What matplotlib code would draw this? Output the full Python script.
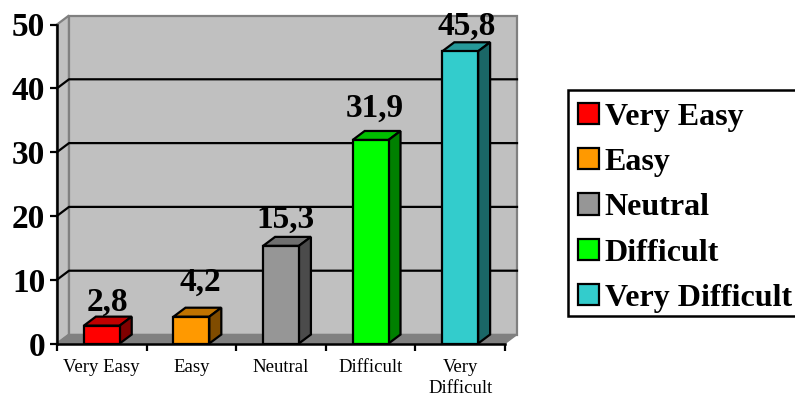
import matplotlib
matplotlib.use('Agg')
import matplotlib.pyplot as plt
from matplotlib.patches import Polygon, Patch, Rectangle

plt.rcParams['font.family'] = ['Liberation Serif', 'DejaVu Serif']

categories = ['Very Easy', 'Easy', 'Neutral', 'Difficult', 'Very\nDifficult']
legend_names = ['Very Easy', 'Easy', 'Neutral', 'Difficult', 'Very Difficult']
values = [2.8, 4.2, 15.3, 31.9, 45.8]
value_labels = ['2,8', '4,2', '15,3', '31,9', '45,8']
y_ticks = [0, 10, 20, 30, 40, 50]

front_colors = ['#ff0000', '#ff9900', '#969696', '#00ff00', '#33cccc']
top_colors = ['#c00000', '#c07300', '#707070', '#00c000', '#269999']
side_colors = ['#800000', '#804c00', '#4b4b4b', '#008000', '#1a6666']

# label baseline shift from the bar's front centre, in pixels (right, up from top of bar)
label_dx = [6, 9, 4, 4, 6]
label_dy = [14.6, 25.7, 17.9, 23, 16.3]

W, H = 795, 396
fig = plt.figure(figsize=(W / 100, H / 100), dpi=100)
ax = fig.add_axes([57 / W, 1 - 343.5 / H, 448 / W, 319 / H])
ax.set_xlim(0, 5)
ax.set_ylim(0, 50)
ax.patch.set_visible(False)

# depth of the fake 3D box in data units
dx = 12 / 89.6
dy = 9 / 6.38

# side wall, back wall and floor
ax.add_patch(Polygon([(0, 0), (dx, dy), (dx, 50 + dy), (0, 50)], closed=True, fc='#c0c0c0',
                     ec='#808080', lw=1.6, clip_on=False, zorder=1))
ax.add_patch(Polygon([(dx, dy), (5 + dx, dy), (5 + dx, 50 + dy), (dx, 50 + dy)], closed=True,
                     fc='#c0c0c0', ec='#808080', lw=1.6, clip_on=False, zorder=1))
ax.add_patch(Polygon([(0, 0), (dx, dy), (5 + dx, dy), (5, 0)], closed=True, fc='#808080',
                     ec='#808080', lw=1, clip_on=False, zorder=1.5))

# gridlines run along the side wall and across the back
for t in y_ticks[1:-1]:
    ax.plot([0, dx, 5 + dx], [t, t + dy, t + dy], color='black', lw=1.6, clip_on=False, zorder=2)

bar_x = [i + 0.5 for i in range(len(values))]
ax.bar(bar_x, values, width=0.4, color=front_colors, edgecolor='black', linewidth=1.6, zorder=5)

for x, v, top, side, lab, ldx, ldy in zip(bar_x, values, top_colors, side_colors, value_labels,
                                          label_dx, label_dy):
    l, r = x - 0.2, x + 0.2
    ax.add_patch(Polygon([(l, v), (l + dx, v + dy), (r + dx, v + dy), (r, v)], closed=True,
                         fc=top, ec='black', lw=1.6, clip_on=False, zorder=4))
    ax.add_patch(Polygon([(r, 0), (r + dx, dy), (r + dx, v + dy), (r, v)], closed=True,
                         fc=side, ec='black', lw=1.6, clip_on=False, zorder=4))
    ax.annotate(lab, (x, v), xytext=(ldx * 0.72, ldy * 0.72), textcoords='offset points',
                ha='center', va='baseline', fontsize=24, fontweight='bold',
                zorder=6, annotation_clip=False)

for name in ['top', 'right']:
    ax.spines[name].set_visible(False)
for name in ['left', 'bottom']:
    ax.spines[name].set_linewidth(1.8)
    ax.spines[name].set_zorder(7)

ax.set_yticks(y_ticks)
ax.set_yticklabels([str(t) for t in y_ticks], fontsize=24, fontweight='bold')
ax.tick_params(axis='y', length=5, width=1.6, pad=3.5)
ax.set_xticks(range(6))
ax.set_xticklabels([])
ax.tick_params(axis='x', which='major', length=5, width=1.6)
ax.set_xticks(bar_x, minor=True)
ax.set_xticklabels(categories, minor=True, fontsize=13.5, linespacing=1.3)
ax.tick_params(axis='x', which='minor', length=0, pad=11)

# legend box is its own rectangle so the rows can be spaced freely inside it
fig.add_artist(Rectangle((568 / W, 1 - 316 / H), 240 / W, 226 / H, transform=fig.transFigure,
                         fc='white', ec='black', lw=1.8, zorder=0))
handles = [Patch(facecolor=c, edgecolor='black', linewidth=1.6) for c in front_colors]
leg = fig.legend(handles, legend_names, loc='upper left', bbox_to_anchor=(578 / W, 1 - 102.7 / H),
                 bbox_transform=fig.transFigure, prop={'size': 23, 'weight': 'bold'},
                 frameon=False, borderaxespad=0, handlelength=0.65, handleheight=0.65,
                 handletextpad=0.19, labelspacing=0.51, borderpad=0)

fig.savefig('out.png', dpi=100)
